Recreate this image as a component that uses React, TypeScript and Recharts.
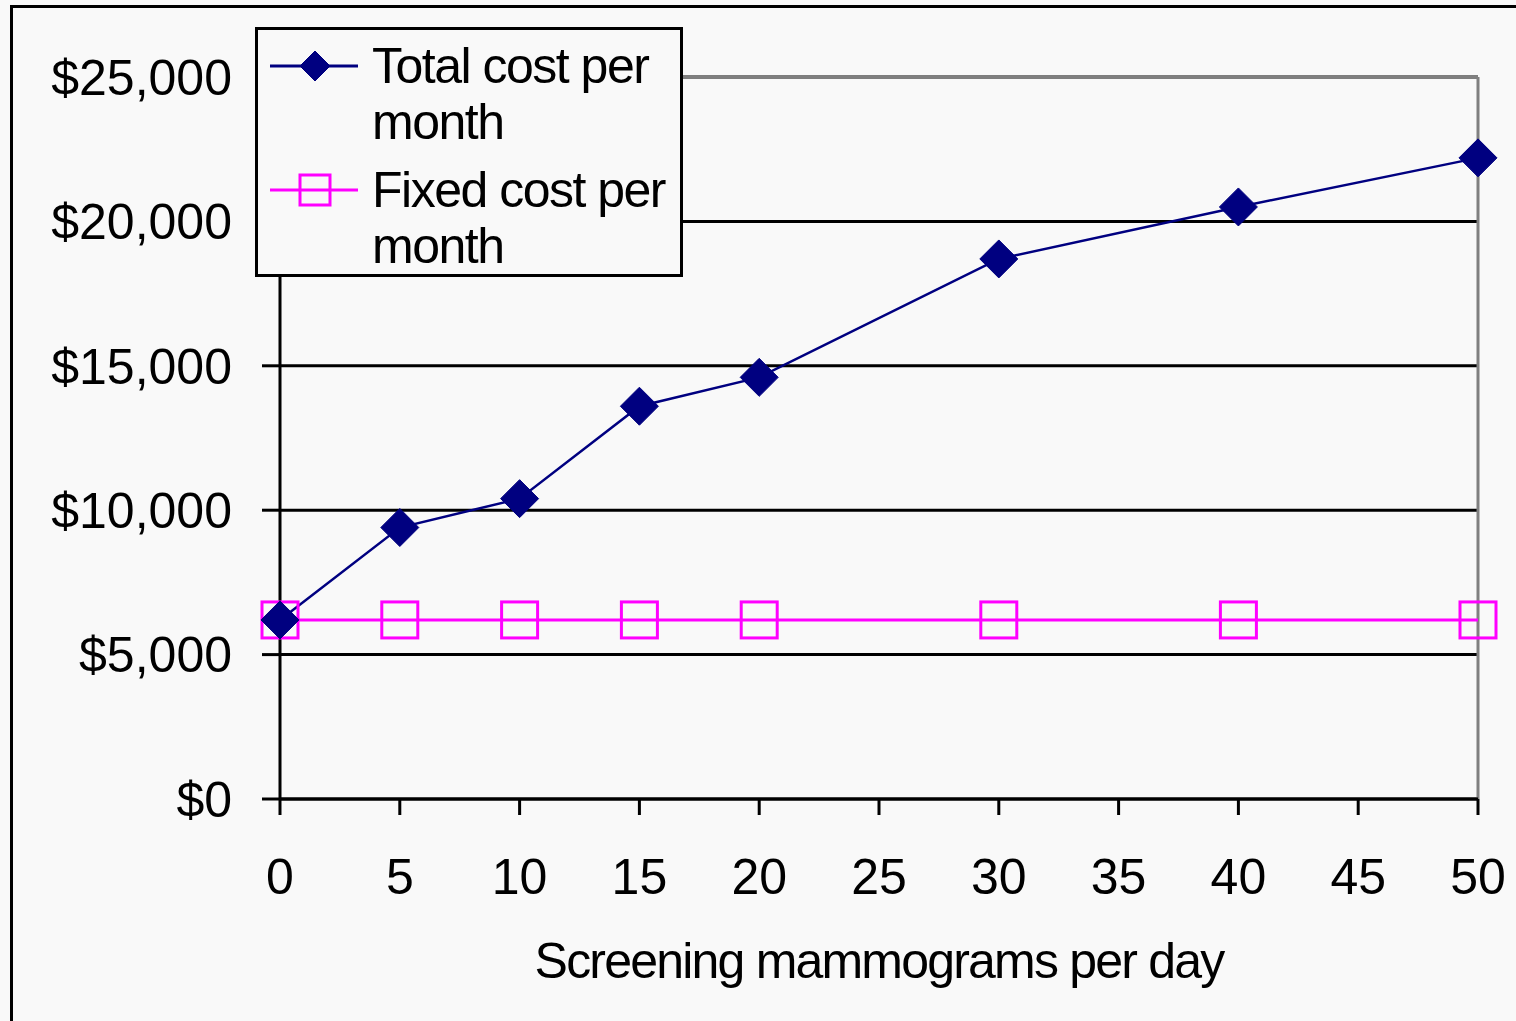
import React from "react";
import {
  LineChart,
  Line,
  XAxis,
  YAxis,
  CartesianGrid,
  Legend,
  ReferenceLine,
} from "recharts";

const mammogramsPerDay = [0, 5, 10, 15, 20, 30, 40, 50];
const totalCost = [6200, 9400, 10400, 13600, 14600, 18700, 20500, 22200];
const fixedCost = [6200, 6200, 6200, 6200, 6200, 6200, 6200, 6200];

const xTicks = [0, 5, 10, 15, 20, 25, 30, 35, 40, 45, 50];
const yTicks = [0, 5000, 10000, 15000, 20000, 25000];

const SERIES = [
  { key: "total", name: "Total cost per month", color: "#000080", marker: "diamond" },
  { key: "fixed", name: "Fixed cost per month", color: "#ff00ff", marker: "square" },
];

const FONT = "'Liberation Sans', Arial, sans-serif";
const BG = "#f9f9f9";

const data = mammogramsPerDay.map((x, i) => ({
  x,
  total: totalCost[i],
  fixed: fixedCost[i],
}));

const formatDollars = (v: number) => `$${v.toLocaleString("en-US")}`;

function Diamond({ cx, cy, color, r = 19 }: { cx: number; cy: number; color: string; r?: number }) {
  return (
    <polygon
      points={`${cx},${cy - r} ${cx + r},${cy} ${cx},${cy + r} ${cx - r},${cy}`}
      fill={color}
      stroke={color}
    />
  );
}

function Square({ cx, cy, color, r = 18 }: { cx: number; cy: number; color: string; r?: number }) {
  return (
    <rect
      x={cx - r}
      y={cy - r}
      width={r * 2}
      height={r * 2}
      fill="none"
      stroke={color}
      strokeWidth={3}
    />
  );
}

const diamondDot = (props: any) =>
  props.cx == null ? <g key={props.key} /> : <Diamond key={props.key} cx={props.cx} cy={props.cy} color="#000080" />;

const squareDot = (props: any) =>
  props.cx == null ? <g key={props.key} /> : <Square key={props.key} cx={props.cx} cy={props.cy} color="#ff00ff" />;

function LegendBox() {
  return (
    <div
      style={{
        width: 422,
        height: 236,
        border: "3px solid #000",
        background: BG,
        boxSizing: "content-box",
        paddingTop: 8,
        fontFamily: FONT,
        fontSize: 50,
        letterSpacing: -1.5,
        color: "#000",
      }}
    >
      {SERIES.map((s, i) => (
        <div key={s.key} style={{ display: "flex", marginTop: i === 0 ? 0 : 12 }}>
          <svg width={114} height={56} style={{ flex: "none" }}>
            <line x1={12} y1={28} x2={100} y2={28} stroke={s.color} strokeWidth={3} />
            {s.marker === "diamond" ? (
              <Diamond cx={57} cy={28} color={s.color} r={15} />
            ) : (
              <Square cx={57} cy={28} color={s.color} r={15} />
            )}
          </svg>
          <div style={{ width: 300, lineHeight: "56px", textAlign: "left" }}>{s.name}</div>
        </div>
      ))}
    </div>
  );
}

export default function App() {
  return (
    <div
      style={{
        position: "absolute",
        left: 0,
        top: 0,
        width: 1516,
        height: 1021,
        background: BG,
        overflow: "hidden",
      }}
    >
      <div
        style={{
          position: "absolute",
          left: 10,
          top: 5,
          width: 1520,
          height: 1030,
          borderLeft: "3px solid #000",
          borderTop: "3px solid #000",
        }}
      />
      <LineChart
        width={1516}
        height={1021}
        data={data}
        margin={{ top: 77, right: 38, bottom: 102, left: 60 }}
        style={{ position: "absolute", left: 0, top: 0 }}
      >
        <CartesianGrid vertical={false} stroke="#000" strokeWidth={3} strokeOpacity={1} />
        <ReferenceLine y={25000} stroke="#808080" strokeWidth={3} />
        <ReferenceLine x={50} stroke="#808080" strokeWidth={3} />
        <XAxis
          dataKey="x"
          type="number"
          domain={[0, 50]}
          ticks={xTicks}
          interval={0}
          height={120}
          stroke="#000"
          strokeWidth={3}
          tickSize={16}
          tickMargin={43}
          tick={{ fill: "#000", fontSize: 50, fontFamily: FONT }}
          tickLine={{ stroke: "#000", strokeWidth: 3 }}
          label={{
            value: "Screening mammograms per day",
            position: "bottom",
            offset: 23,
            fill: "#000",
            fontSize: 50,
            fontFamily: FONT,
            style: { letterSpacing: -1.8 },
          }}
        />
        <YAxis
          type="number"
          domain={[0, 25000]}
          ticks={yTicks}
          interval={0}
          width={220}
          stroke="#000"
          strokeWidth={3}
          tickSize={18}
          tickMargin={30}
          tickFormatter={formatDollars}
          tick={{ fill: "#000", fontSize: 50, fontFamily: FONT }}
          tickLine={{ stroke: "#000", strokeWidth: 3 }}
        />
        {/* middle/center keeps the legend from taking space away from the plot */}
        <Legend
          layout="horizontal"
          verticalAlign="middle"
          align="center"
          content={() => <LegendBox />}
          wrapperStyle={{ position: "absolute", left: 255, top: 27, width: "auto", height: "auto" }}
        />
        <Line
          dataKey="fixed"
          name="Fixed cost per month"
          stroke="#ff00ff"
          strokeWidth={3}
          dot={squareDot}
          activeDot={false}
          isAnimationActive={false}
        />
        <Line
          dataKey="total"
          name="Total cost per month"
          stroke="#000080"
          strokeWidth={2.5}
          dot={diamondDot}
          activeDot={false}
          isAnimationActive={false}
        />
      </LineChart>
    </div>
  );
}
